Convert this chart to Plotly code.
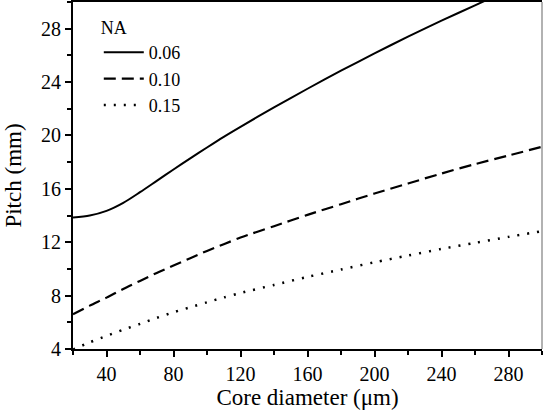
import plotly.graph_objects as go

# Core diameter (um)
x_vals = [20, 30, 40, 50, 60, 70, 80, 90, 100, 110, 120, 140, 160, 180, 200, 220, 240, 260, 280, 300]

# Pitch (mm) for each NA
pitch_006 = [13.85, 14.0, 14.35, 14.95, 15.75, 16.6, 17.45, 18.28, 19.1, 19.9, 20.65, 22.1, 23.5, 24.85, 26.15, 27.4, 28.6, 29.75, 30.9, 32.0]
pitch_010 = [6.6, 7.25, 7.85, 8.5, 9.1, 9.7, 10.25, 10.8, 11.35, 11.85, 12.35, 13.2, 14.05, 14.85, 15.65, 16.4, 17.15, 17.85, 18.5, 19.15]
pitch_015 = [3.95, 4.5, 4.98, 5.45, 5.88, 6.33, 6.75, 7.13, 7.5, 7.86, 8.2, 8.8, 9.4, 9.95, 10.5, 11.0, 11.5, 11.95, 12.4, 12.83]

series_names = ["0.06", "0.10", "0.15"]
x_tickvals = [40, 80, 120, 160, 200, 240, 280]
y_tickvals = [4, 8, 12, 16, 20, 24, 28]

FONT = "Liberation Serif"

fig = go.Figure()
fig.add_trace(go.Scatter(x=x_vals, y=pitch_006, mode="lines", name=series_names[0],
                         line=dict(color="black", width=2, shape="spline", smoothing=0.8)))
fig.add_trace(go.Scatter(x=x_vals, y=pitch_010, mode="lines", name=series_names[1],
                         line=dict(color="black", width=2.2, dash="12px,6px", shape="spline", smoothing=0.8)))
fig.add_trace(go.Scatter(x=x_vals, y=pitch_015, mode="lines", name=series_names[2],
                         line=dict(color="black", width=2.5, dash="2px,8px", shape="spline", smoothing=0.8)))

axis_common = dict(
    showgrid=False, zeroline=False, showline=True, linecolor="black", linewidth=2,
    ticks="outside", ticklen=6, tickwidth=1.5, tickcolor="black",
    tickfont=dict(family=FONT, size=20, color="black"),
)

fig.update_xaxes(
    range=[20, 300], tickvals=x_tickvals, mirror=True,
    minor=dict(dtick=20, tick0=0, ticks="outside", ticklen=4, tickwidth=1.5, tickcolor="black"),
    title=dict(text="Core diameter (μm)", font=dict(family=FONT, size=23, color="black"), standoff=5),
    **axis_common,
)
fig.update_yaxes(
    range=[4, 30], tickvals=y_tickvals,
    minor=dict(dtick=2, tick0=0, ticks="outside", ticklen=4, tickwidth=1.5, tickcolor="black"),
    title=dict(text="Pitch (mm)", font=dict(family=FONT, size=23, color="black"), standoff=13),
    **axis_common,
)

# right border (lighter)
fig.add_shape(type="line", xref="paper", yref="paper", x0=1, x1=1, y0=0, y1=1,
              line=dict(color="#999999", width=1.5))

fig.update_layout(
    width=544, height=412,
    margin=dict(l=73, r=2, t=2, b=63, autoexpand=False),
    plot_bgcolor="white", paper_bgcolor="white",
    font=dict(family=FONT, size=18, color="black"),
    legend=dict(
        title=dict(text="NA", font=dict(family=FONT, size=18)),
        x=0.055, y=0.975, xanchor="left", yanchor="top",
        bgcolor="rgba(0,0,0,0)", font=dict(family=FONT, size=18),
        tracegroupgap=0, itemwidth=40,
    ),
)

fig.write_html("out.html")
